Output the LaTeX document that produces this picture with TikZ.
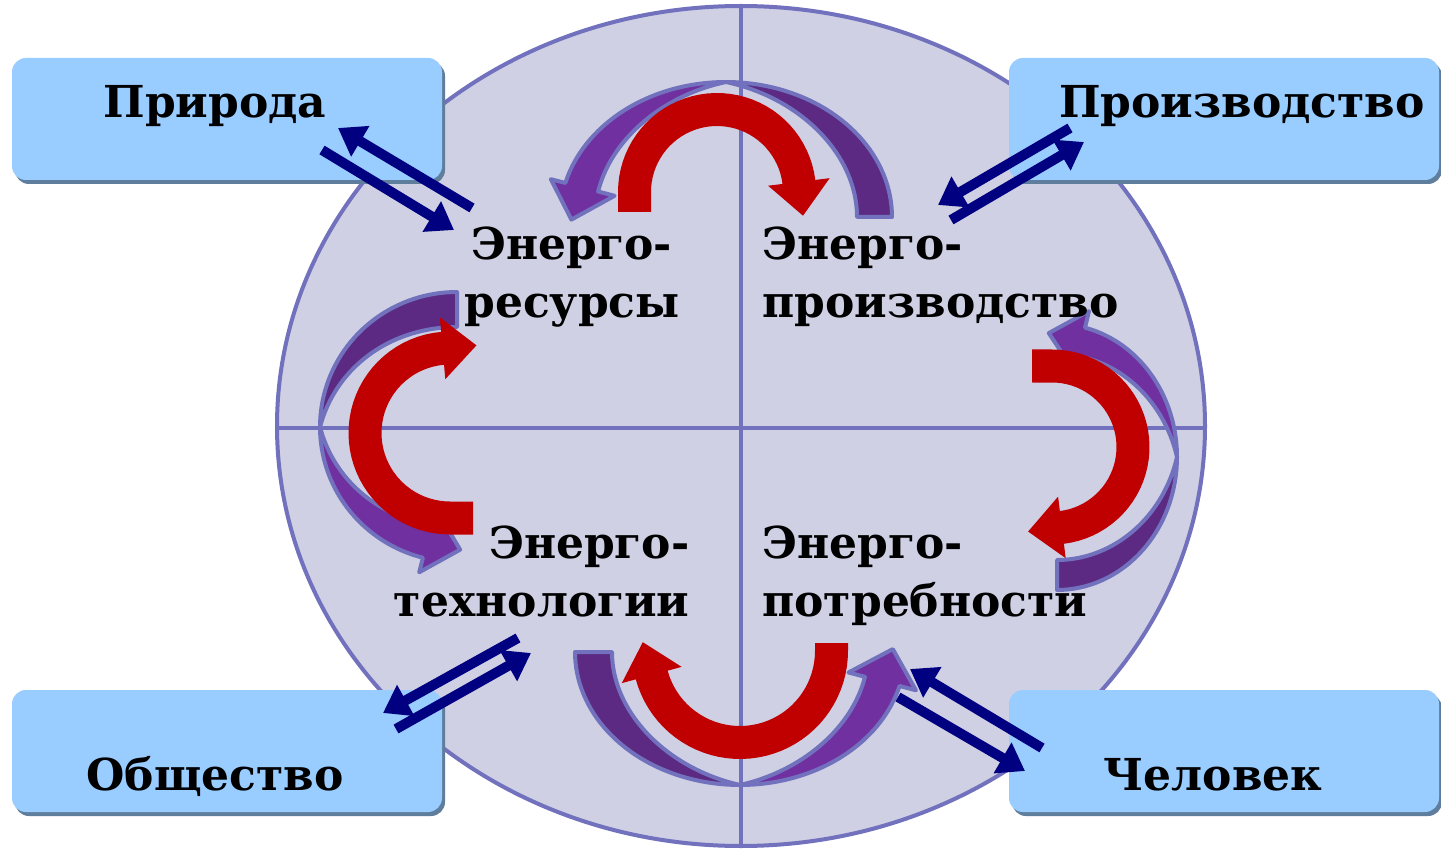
\documentclass[tikz,border=0pt]{standalone}
\usepackage{fontspec}
\setmainfont{DejaVu Serif}
\usetikzlibrary{arrows.meta,shadows}
\definecolor{oval}{HTML}{CFD0E4}
\definecolor{rim}{HTML}{7171BD}
\definecolor{plum}{HTML}{7030A0}
\definecolor{plumdark}{HTML}{5C2A82}
\definecolor{brick}{HTML}{C00000}
\definecolor{deepnavy}{HTML}{000080}
\definecolor{boxblue}{HTML}{99CCFF}
\definecolor{boxshade}{HTML}{5F7D9C}
\tikzset{
  cornerbox/.style={rectangle,rounded corners=7pt,fill=boxblue,minimum width=215pt,
              minimum height=61pt,inner sep=0pt,
              drop shadow={shadow xshift=1.5pt,shadow yshift=-2pt,fill=boxshade,opacity=1}},
  lbl/.style={font=\fontsize{22}{29}\selectfont\bfseries,inner sep=0pt},
  navyarr/.style={-{Triangle[length=13pt,width=17pt]},line width=5pt,deepnavy},
  redpart/.style={fill=brick,samples=40},
  lightpart/.style={fill=plum,draw=rim,line width=2pt,line join=round,samples=40},
  darkpart/.style={fill=plumdark,draw=rim,line width=2pt,line join=round,samples=40}
}
\pgfkeys{/bend/.cd,
  cx/.store in=\bnX, cy/.store in=\bnY, a/.store in=\bnA, b/.store in=\bnB,
  from/.store in=\bnFrom, to/.store in=\bnTo, ext/.store in=\bnExt,
  w/.store in=\bnW, hw/.store in=\bnHw, hl/.store in=\bnHl,
  d/.store in=\bnD, tan/.store in=\bnTan, foot/.store in=\bnFoot, head/.store in=\bnHead,
  eo/.store in=\bnEo, ei/.store in=\bnEi,
  ext=0, w=33, hw=31, hl=32, d=35, eo=15, ei=17}
% red bent arrow: band of constant width along an ellipse
\newcommand{\redbend}[1]{%
  \pgfkeys{/bend/.cd,#1}%
  \pgfmathsetmacro\bnS{sign(\bnTo-\bnFrom)}%
  \pgfmathsetmacro\bnH{\bnW/2}%
  \pgfmathsetmacro\bnTx{(-1)*(\bnS)*\bnA*sin(\bnTo)}%
  \pgfmathsetmacro\bnTy{(\bnS)*\bnB*cos(\bnTo)}%
  \pgfmathsetmacro\bnTn{veclen(\bnTx,\bnTy)}%
  \pgfmathsetmacro\bnTx{(\bnTx)/\bnTn}%
  \pgfmathsetmacro\bnTy{(\bnTy)/\bnTn}%
  \pgfmathsetmacro\bnFx{(\bnS)*\bnA*sin(\bnFrom)}%
  \pgfmathsetmacro\bnFy{(-1)*(\bnS)*\bnB*cos(\bnFrom)}%
  \pgfmathsetmacro\bnFn{veclen(\bnFx,\bnFy)}%
  \pgfmathsetmacro\bnFx{(\bnFx)/\bnFn}%
  \pgfmathsetmacro\bnFy{(\bnFy)/\bnFn}%
  \path[redpart] ({\bnX+(\bnA+\bnH)*cos(\bnFrom)+\bnExt*(\bnFx)},{\bnY+(\bnB+\bnH)*sin(\bnFrom)+\bnExt*(\bnFy)})
    -- plot[domain=\bnFrom:\bnTo] ({\bnX+(\bnA+\bnH)*cos(\x)},{\bnY+(\bnB+\bnH)*sin(\x)})
    -- ({\bnX+(\bnA+\bnHw)*cos(\bnTo)},{\bnY+(\bnB+\bnHw)*sin(\bnTo)})
    -- ({\bnX+\bnA*cos(\bnTo)+\bnHl*(\bnTx)},{\bnY+\bnB*sin(\bnTo)+\bnHl*(\bnTy)})
    -- ({\bnX+(\bnA-\bnHw)*cos(\bnTo)},{\bnY+(\bnB-\bnHw)*sin(\bnTo)})
    -- plot[domain=\bnTo:\bnFrom] ({\bnX+(\bnA-\bnH)*cos(\x)},{\bnY+(\bnB-\bnH)*sin(\x)})
    -- ({\bnX+(\bnA-\bnH)*cos(\bnFrom)+\bnExt*(\bnFx)},{\bnY+(\bnB-\bnH)*sin(\bnFrom)+\bnExt*(\bnFy)})
    -- cycle;
}
% purple bent arrow: crescent, thin where it touches the oval's inner rim
\newcommand{\purplebend}[1]{%
  \pgfkeys{/bend/.cd,#1}%
  \pgfmathsetmacro\bnS{sign(\bnHead-\bnTan)}%
  \pgfmathsetmacro\bnWh{\bnD*abs(sin(\bnHead-\bnTan))}%
  \pgfmathsetmacro\bnTx{(-1)*(\bnS)*\bnA*sin(\bnHead)}%
  \pgfmathsetmacro\bnTy{(\bnS)*\bnB*cos(\bnHead)}%
  \pgfmathsetmacro\bnTn{veclen(\bnTx,\bnTy)}%
  \pgfmathsetmacro\bnTx{(\bnTx)/\bnTn}%
  \pgfmathsetmacro\bnTy{(\bnTy)/\bnTn}%
  \path[darkpart] plot[domain=\bnTan:\bnFoot] ({\bnX+\bnA*cos(\x)},{\bnY+\bnB*sin(\x)})
    -- plot[domain=\bnFoot:\bnTan] ({\bnX+(\bnA-\bnD*abs(sin(\x-\bnTan)))*cos(\x)},{\bnY+(\bnB-\bnD*abs(sin(\x-\bnTan)))*sin(\x)})
    -- cycle;
  \path[lightpart] plot[domain=\bnTan:\bnHead] ({\bnX+\bnA*cos(\x)},{\bnY+\bnB*sin(\x)})
    -- ({\bnX+(\bnA+\bnEo)*cos(\bnHead)},{\bnY+(\bnB+\bnEo)*sin(\bnHead)})
    -- ({\bnX+(\bnA-\bnWh/2)*cos(\bnHead)+\bnHl*(\bnTx)},{\bnY+(\bnB-\bnWh/2)*sin(\bnHead)+\bnHl*(\bnTy)})
    -- ({\bnX+(\bnA-\bnWh-\bnEi)*cos(\bnHead)},{\bnY+(\bnB-\bnWh-\bnEi)*sin(\bnHead)})
    -- ({\bnX+(\bnA-\bnWh)*cos(\bnHead)},{\bnY+(\bnB-\bnWh)*sin(\bnHead)})
    -- plot[domain=\bnHead:\bnTan] ({\bnX+(\bnA-\bnD*abs(sin(\x-\bnTan)))*cos(\x)},{\bnY+(\bnB-\bnD*abs(sin(\x-\bnTan)))*sin(\x)})
    -- cycle;
}
\begin{document}
\begin{tikzpicture}[x=0.5pt,y=-0.5pt]
    \fill[white] (0,0) rectangle (1441,850);
    \useasboundingbox (0,0) rectangle (1441,850);
    \filldraw[fill=oval,draw=rim,line width=2pt] (741,426) ellipse [x radius=464,y radius=420];
    \draw[rim,line width=2pt] (741,6) -- (741,846) (277,428) -- (1205,428);

    \purplebend{cx=726,cy=217,a=166,b=135,d=35,tan=270,foot=360,head=194.6,eo=15,ei=17,hl=34}
    \purplebend{cx=457,cy=427,a=137,b=135,d=35,tan=180,foot=270,head=104.4,eo=15,ei=17,hl=34}
    \purplebend{cx=1057,cy=457,a=120,b=133,d=30,tan=360,foot=450,head=283.5,eo=17,ei=16,hl=34}
    \purplebend{cx=740,cy=652,a=165,b=133,d=37,tan=90,foot=180,head=14.8,eo=17,ei=17,hl=34}

    \redbend{cx=717,cy=192,a=82.5,b=82.5,from=180,to=353,ext=20}
    \redbend{cx=450,cy=433,a=85,b=85,from=90,to=265,ext=23}
    \redbend{cx=1052,cy=447,a=81,b=81,from=270,to=443,ext=20}
    \redbend{cx=740,cy=651,a=91.5,b=91.5,from=0,to=164.8,ext=8}

    \node[lbl,align=center,anchor=base] (res) at (572,318) {Энерго-\\ресурсы};
    \node[lbl,align=left,anchor=base west] (prod) at (762,318) {Энерго-\\производство};
    \node[lbl,align=right,anchor=base east] (tech) at (690,616) {Энерго-\\технологии};
    \node[lbl,align=left,anchor=base west] (need) at (762,616) {Энерго-\\потребности};

    \node[cornerbox] (natbox) at (227,119) {};
    \node[cornerbox] (indbox) at (1224,119) {};
    \node[cornerbox] (socbox) at (227,751) {};
    \node[cornerbox] (manbox) at (1224,751) {};
    \node[lbl,anchor=base] (nature) at (215,118) {Природа};
    \node[lbl,anchor=base] (industry) at (1242,118) {Производство};
    \node[lbl,anchor=base] (society) at (215,790) {Общество};
    \node[lbl,anchor=base] (person) at (1213,790) {Человек};

    \coordinate (tl1) at (472,208);  \coordinate (tl2) at (338,128);
    \coordinate (tl3) at (322,150);  \coordinate (tl4) at (454,230);
    \coordinate (tr1) at (1070,128); \coordinate (tr2) at (938,205);
    \coordinate (tr3) at (951,220);  \coordinate (tr4) at (1084,142);
    \coordinate (bl1) at (518,638);  \coordinate (bl2) at (383,713);
    \coordinate (bl3) at (396,729);  \coordinate (bl4) at (531,653);
    \coordinate (br1) at (1042,748); \coordinate (br2) at (910,669);
    \coordinate (br3) at (898,697);  \coordinate (br4) at (1025,771);
    \foreach \s/\e in {tl1/tl2,tl3/tl4,tr1/tr2,tr3/tr4,bl1/bl2,bl3/bl4,br1/br2,br3/br4}
      \draw[navyarr] (\s) -- (\e);
\end{tikzpicture}
\end{document}
